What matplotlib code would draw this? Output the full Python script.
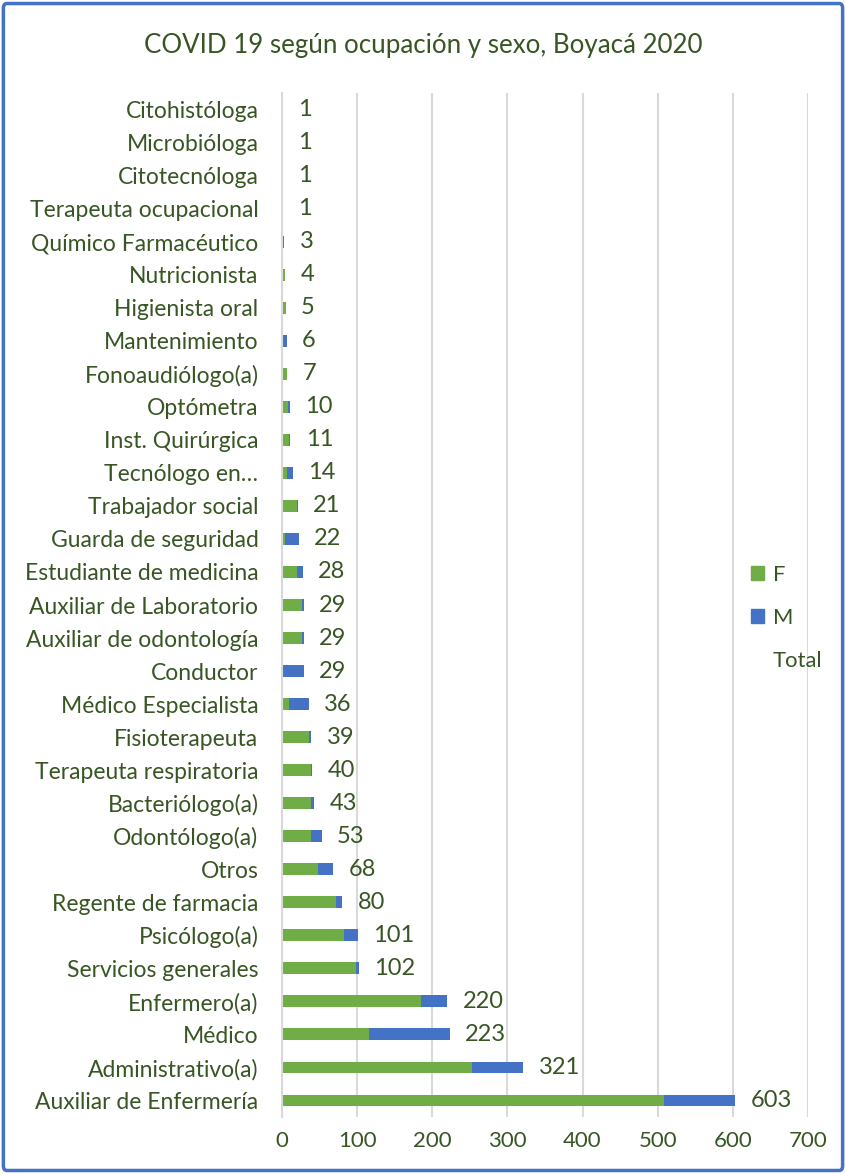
"""COVID 19 according to occupation and sex, Boyacá 2020 - stacked horizontal bars."""

import matplotlib

matplotlib.use("Agg")
import matplotlib.pyplot as plt
from matplotlib.patches import FancyBboxPatch, Patch

occupations = [
    "Citohistóloga",
    "Microbióloga",
    "Citotecnóloga",
    "Terapeuta ocupacional",
    "Químico Farmacéutico",
    "Nutricionista",
    "Higienista oral",
    "Mantenimiento",
    "Fonoaudiólogo(a)",
    "Optómetra",
    "Inst. Quirúrgica",
    "Tecnólogo en…",
    "Trabajador social",
    "Guarda de seguridad",
    "Estudiante de medicina",
    "Auxiliar de Laboratorio",
    "Auxiliar de odontología",
    "Conductor",
    "Médico Especialista",
    "Fisioterapeuta",
    "Terapeuta respiratoria",
    "Bacteriólogo(a)",
    "Odontólogo(a)",
    "Otros",
    "Regente de farmacia",
    "Psicólogo(a)",
    "Servicios generales",
    "Enfermero(a)",
    "Médico",
    "Administrativo(a)",
    "Auxiliar de Enfermería",
]
female = [1, 1, 1, 1, 0, 4, 5, 0, 6, 8, 9, 6, 20, 4, 20, 27, 27, 0, 9, 36,
          38, 39, 39, 48, 72, 82, 99, 185, 116, 253, 509]
male = [0, 0, 0, 0, 3, 0, 0, 6, 1, 2, 2, 8, 1, 18, 8, 2, 2, 29, 27, 3,
        2, 4, 14, 20, 8, 19, 3, 35, 107, 68, 94]
totals = [1, 1, 1, 1, 3, 4, 5, 6, 7, 10, 11, 14, 21, 22, 28, 29, 29, 29, 36, 39,
          40, 43, 53, 68, 80, 101, 102, 220, 223, 321, 603]
x_ticks = [0, 100, 200, 300, 400, 500, 600, 700]

GREEN = "#70AD47"
BLUE = "#4472C4"
TEXT = "#375623"
GRID = "#D9D9D9"

plt.rcParams["font.family"] = ["Lato", "DejaVu Sans"]

fig = plt.figure(figsize=(8.46, 11.74), dpi=100)
ax = fig.add_axes([282 / 846, 1 - 1117 / 1174, (808 - 282) / 846, (1117 - 93) / 1174])

pos = list(range(len(occupations)))
ax.barh(pos, female, height=0.36, color=GREEN, label="F")
ax.barh(pos, male, left=female, height=0.36, color=BLUE, label="M")

for y, tot in zip(pos, totals):
    ax.annotate(str(tot), xy=(tot, y), xytext=(11, 0), textcoords="offset points",
                va="center", ha="left", fontsize=17, color=TEXT)

ax.set_xlim(0, 700)
ax.set_ylim(len(occupations) - 0.5, -0.5)
ax.set_xticks(x_ticks)
ax.set_yticks(pos)
ax.set_yticklabels(occupations)
ax.tick_params(axis="both", length=0, labelsize=16.5, colors=TEXT)
ax.tick_params(axis="x", labelsize=16, pad=10)
ax.tick_params(axis="y", pad=17)
ax.grid(axis="x", color=GRID, linewidth=1.5)
ax.set_axisbelow(True)
for side in ["top", "right", "bottom"]:
    ax.spines[side].set_visible(False)
ax.spines["left"].set_color(GRID)
ax.spines["left"].set_linewidth(1.5)

fig.text(0.5, 1 - 45 / 1174, "COVID 19 según ocupación y sexo, Boyacá 2020",
         ha="center", va="center", fontsize=18.6, color=TEXT)

handles = [Patch(color=GREEN), Patch(color=BLUE), Patch(facecolor="none", edgecolor="none")]
fig.legend(handles, ["F", "M", "Total"], loc="upper left",
           bbox_to_anchor=(731 / 846, 1 - 545 / 1174), frameon=False,
           fontsize=15.8, labelcolor=TEXT, handlelength=0.6, handleheight=0.6,
           handletextpad=0.4, labelspacing=1.05)

border = FancyBboxPatch((0.004, 0.003), 0.992, 0.994, boxstyle="round,pad=0,rounding_size=0.004",
                        transform=fig.transFigure, facecolor="none", edgecolor=BLUE, linewidth=2.5)
fig.patches.append(border)

fig.savefig("out.png", dpi=100)
